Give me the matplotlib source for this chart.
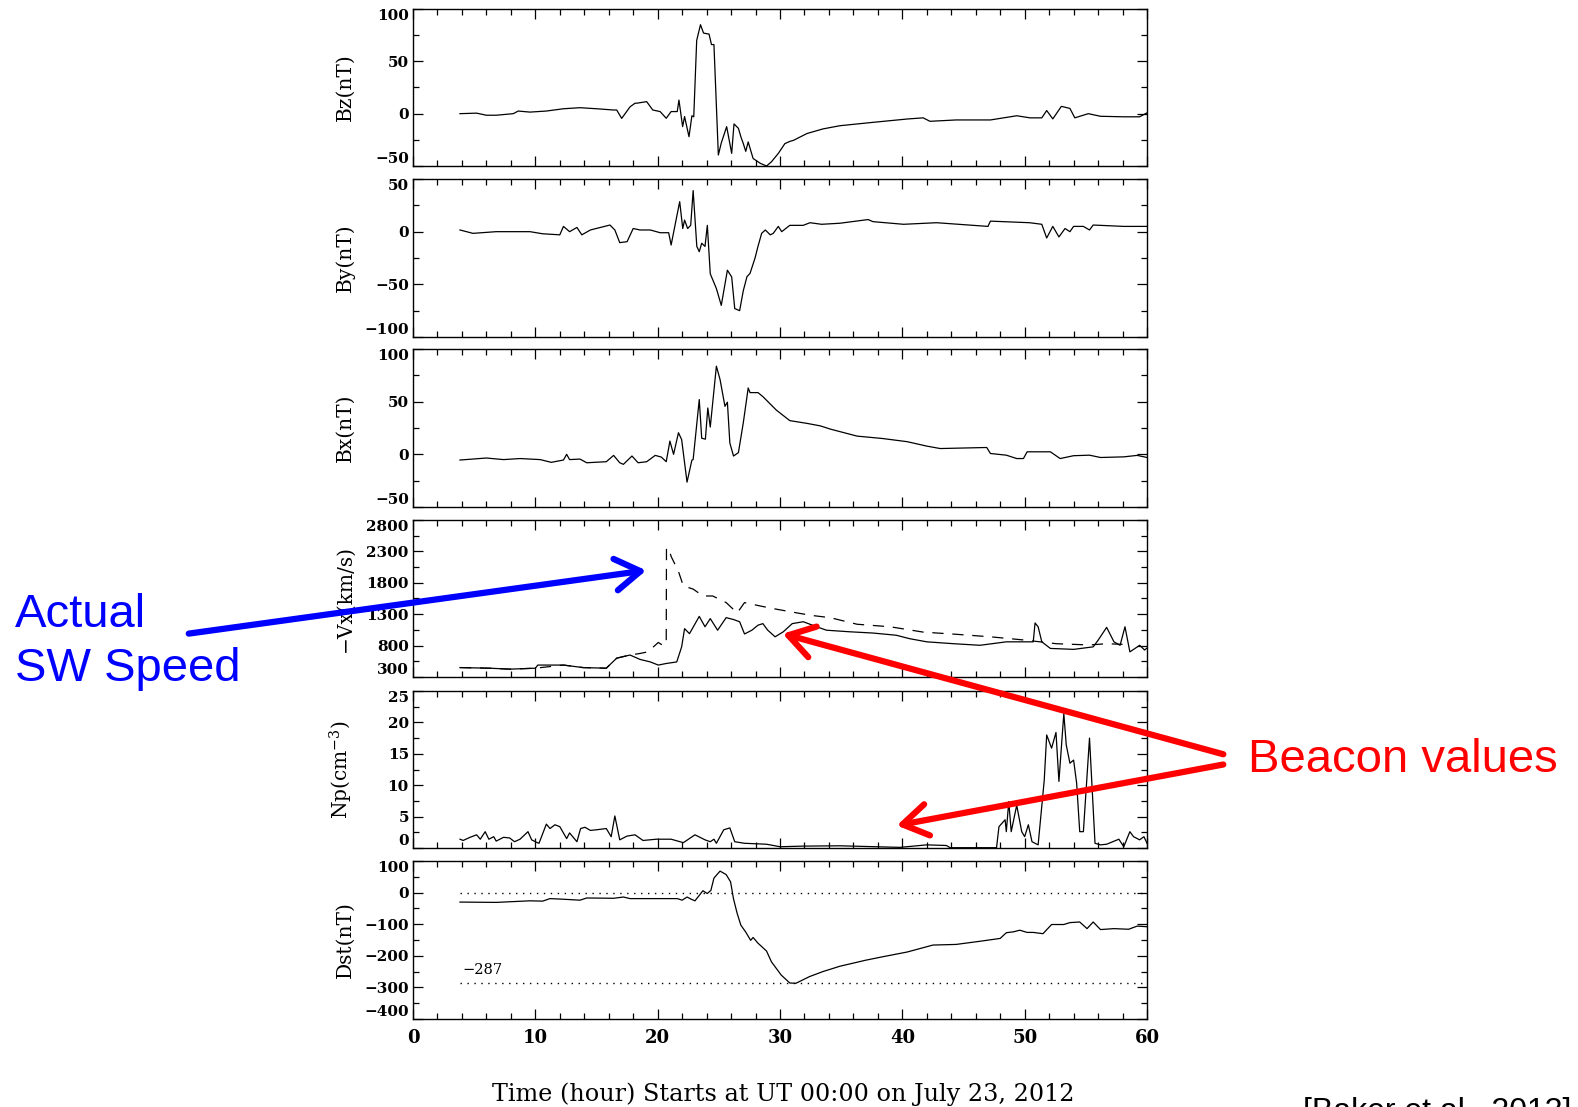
import matplotlib
matplotlib.use("Agg")
import matplotlib.pyplot as plt
from matplotlib.patches import FancyArrowPatch
from matplotlib.ticker import MultipleLocator

# ---------------- data ----------------
bz_t = [3.84, 5.2, 6.0, 6.8, 8.2, 8.6, 9.56, 10.9, 12.3, 13.65, 15.0, 16.4, 16.65, 17.06, 17.4, 17.74,
        18.15, 18.3, 19.1, 19.6, 20.2, 20.7, 21.1, 21.6, 21.74, 22.04, 22.2, 22.56, 22.8, 22.95, 23.19,
        23.5, 23.75, 24.2, 24.4, 24.6, 24.96, 25.2, 25.64, 26.05, 26.24, 26.6, 26.8, 27.0, 27.2, 27.4,
        27.8, 28.4, 28.9, 29.3, 29.86, 30.4, 30.8, 31.1, 32.2, 33.5, 34.9, 37.6, 40.4, 41.7, 42.26, 44.4,
        47.2, 49.35, 50.44, 51.4, 51.8, 52.3, 53.0, 53.7, 54.1, 55.2, 56.2, 58.1, 59.4, 60.0]
bz_v = [0, 0.5, -1.5, -1.5, 0, 2.5, 1.5, 2.5, 4.7, 5.7, 4.7, 3.5, 3.5, -4.5, 1, 6.5,
        10, 10, 11.5, 3.5, 2, -4.4, 2, 2, 13, -12.4, -2.8, -22, -2, -3, 70,
        85, 77, 76, 66, 66, -39.5, -28, -12.4, -37.9, -9.8, -14, -22, -28.6, -36, -27,
        -42.8, -47.5, -50, -46, -38, -28.6, -26.5, -25.5, -19, -14.6, -11.5, -8.3, -5.1, -4, -7.3, -6,
        -6, -2, -4, -4, 3, -5, 7, 5, -4, 0, -2.5, -3, -3, 0.8]

by_t = [3.84, 4.9, 6.8, 9.56, 10.6, 12.0, 12.3, 12.8, 13.4, 13.8, 14.5, 16.1, 16.5, 16.9, 17.5, 18.0,
        18.56, 19.4, 20.2, 20.9, 21.1, 21.4, 21.8, 22.05, 22.2, 22.45, 22.7, 22.9, 23.2, 23.4, 23.6,
        23.87, 24.06, 24.3, 24.8, 25.2, 25.7, 26.05, 26.3, 26.7, 27.0, 27.3, 27.55, 27.96, 28.2, 28.5,
        28.8, 29.2, 29.45, 29.86, 30.14, 30.8, 31.9, 32.45, 33.4, 34.9, 37.2, 37.6, 40.1, 42.8, 47.0,
        47.2, 50.4, 51.4, 51.8, 52.3, 52.8, 53.3, 53.7, 54.0, 54.8, 55.3, 55.6, 58.1, 60.0]
by_v = [1.6, -1.6, 0, 0, -2, -3, 5, 0, 4, -3, 1.6, 6.3, 1.6, -10.4, -9.5, 3,
        1.6, 1.6, -1, -1, -12.7, 5, 28.5, 3, 11, 3, 6, 39, -14, -19, -11,
        -14, 6, -40, -54, -70, -36.6, -43, -73, -75, -56, -42.7, -39.6, -25, -14, -1.6,
        1.6, -3, -1.6, 5, 0, 6, 6, 8.5, 7, 8, 11.5, 9.5, 7, 8.5, 5,
        10, 8.5, 7, -6, 5, -5, 3, 0, 5, 5, 1.6, 6.3, 5, 5]

bx_t = [3.84, 6.0, 7.4, 8.75, 10.4, 11.3, 12.3, 12.56, 12.8, 13.65, 14.2, 15.8, 16.4, 16.9, 17.2, 17.9,
        18.4, 19.1, 19.8, 20.3, 20.7, 21.0, 21.3, 21.7, 21.96, 22.4, 22.8, 22.9, 23.4, 23.6, 23.9, 24.1,
        24.3, 24.8, 25.1, 25.5, 25.7, 25.9, 26.2, 26.6, 27.0, 27.4, 27.55, 28.2, 28.6, 29.7, 30.8, 32.2,
        33.3, 34.1, 36.3, 38.4, 40.4, 42.0, 43.1, 46.9, 47.2, 48.5, 49.35, 49.9, 50.2, 51.3, 52.1, 52.9,
        54.0, 55.3, 56.2, 58.1, 59.2, 60.0]
bx_v = [-5.4, -3.5, -5, -4, -5, -7.6, -5.4, 0, -5, -4.5, -8, -7, -1, -8, -9.5, -1.6,
        -8, -7, -1, -2.6, -7, 12.6, 0, 20.5, 14, -26.4, -5.4, -5, 52, 15.3, 14.4, 44,
        25.9, 83.7, 71, 45.6, 49.5, 10.8, -1.6, 1.6, 30, 63, 58.6, 58.6, 54.8, 42, 32, 29.4,
        27, 24, 17.3, 15, 12, 7.8, 5.5, 6.5, 0.8, -0.8, -4, -4, 2.4, 2.4, 2.4, -4,
        -1.3, -0.8, -3, -2.4, -1, -3]

vx_t = [3.84, 6.3, 7.9, 10.0, 10.2, 12.3, 13.9, 15.8, 16.65, 17.74, 18.56, 19.4, 20.05, 20.7, 21.56,
        21.96, 22.2, 22.6, 23.4, 23.87, 24.3, 24.9, 25.6, 26.2, 26.7, 27.1, 27.7, 28.2, 28.6, 29.0,
        29.6, 30.27, 31.0, 31.9, 33.0, 33.8, 35.7, 37.6, 39.5, 40.6, 42.0, 44.2, 46.35, 48.5, 50.2,
        50.7, 50.85, 51.1, 51.4, 52.1, 54.0, 55.6, 56.0, 56.7, 57.3, 57.8, 58.2, 58.6, 59.4, 59.8, 60.0]
vx_v = [450, 440, 425, 440, 490, 490, 450, 440, 600, 650, 580, 540, 490, 515, 540,
        780, 1070, 990, 1265, 1100, 1230, 1045, 1245, 1215, 1180, 985, 1045, 1125, 1150, 1045,
        940, 1020, 1150, 1180, 1100, 1045, 1020, 1000, 965, 910, 860, 830, 805, 860, 860,
        860, 1160, 1100, 860, 755, 740, 780, 885, 1090, 860, 805, 1100, 700, 805, 730, 760]

vxd_t = [3.84, 6.3, 7.9, 10.0, 12.3, 13.9, 15.8, 16.65, 17.74, 18.56, 19.2, 20.05, 20.45, 20.7, 20.72,
         20.9, 21.1, 21.7, 22.1, 22.9, 23.7, 24.5, 25.6, 26.5, 27.1, 28.4, 29.7, 31.4, 32.6, 34.1,
         36.3, 39.0, 41.7, 44.4, 47.2, 49.9, 52.6, 55.3, 56.7, 58.0]
vxd_v = [450, 440, 425, 440, 490, 450, 440, 600, 650, 675, 700, 850, 800, 830, 2350,
         2350, 2220, 1980, 1750, 1700, 1590, 1590, 1485, 1320, 1485, 1430, 1380, 1320, 1280, 1245,
         1140, 1100, 1015, 980, 940, 890, 830, 810, 830, 820]

np_t = [3.84, 4.1, 4.66, 5.2, 5.5, 5.9, 6.2, 6.6, 6.8, 7.4, 7.9, 8.3, 8.75, 9.4, 9.7, 10.1, 10.3, 10.9,
        11.2, 11.6, 12.0, 12.56, 12.8, 13.4, 13.7, 14.06, 14.5, 15.0, 15.8, 16.2, 16.5, 16.9, 17.5,
        18.15, 18.8, 19.9, 21.1, 22.1, 23.05, 23.87, 24.3, 24.6, 24.8, 25.4, 25.9, 26.3, 27.1, 28.9,
        30.0, 31.9, 34.9, 39.8, 42.0, 43.6, 43.9, 47.7, 47.9, 48.4, 48.5, 48.7, 48.9, 49.35, 49.76,
        50.0, 50.3, 50.6, 51.1, 51.6, 51.8, 52.2, 52.56, 52.8, 53.2, 53.4, 53.7, 54.0, 54.25, 54.5,
        54.8, 55.3, 55.75, 56.2, 56.7, 57.7, 58.1, 58.6, 58.9, 59.4, 59.75, 60.0]
np_v = [1.4, 1.2, 1.7, 2.1, 1.4, 2.6, 1.4, 1.8, 1.1, 1.7, 1.6, 1.0, 1.4, 2.6, 1.3, 0.9, 0.75, 3.8,
        3.1, 3.7, 3.4, 1.5, 2.4, 1.0, 3.1, 3.3, 2.8, 2.9, 3.1, 1.8, 5.1, 1.3, 1.9,
        2.1, 1.2, 1.4, 1.4, 0.85, 2.1, 1.3, 1.0, 1.4, 0.75, 2.9, 3.2, 1.0, 0.75, 0.6,
        0.2, 0.3, 0.35, 0.1, 0.5, 0.4, 0.05, 0.05, 3.4, 4.5, 2.6, 7.4, 2.6, 6.8, 2.6,
        1.8, 3.7, 1.0, 0.5, 10.8, 18, 15.9, 18.4, 10.6, 21.4, 16.4, 13.5, 14.0, 10.3, 2.6,
        2.6, 17.5, 0.75, 0.5, 0.6, 1.4, 0.2, 2.6, 1.8, 1.3, 1.8, 0.75]

dst_t = [3.84, 6.8, 9.56, 10.6, 11.2, 12.3, 13.65, 14.2, 16.4, 17.2, 17.74, 19.1, 20.2, 21.6, 22.0,
         22.4, 22.8, 23.05, 23.7, 24.05, 24.35, 24.6, 25.1, 25.6, 25.96, 26.2, 26.5, 26.8, 27.2, 27.6,
         27.8, 28.2, 28.9, 29.3, 29.7, 30.1, 30.8, 31.3, 32.4, 33.5, 34.9, 37.0, 38.4, 40.4, 42.5,
         44.4, 46.35, 48.0, 48.5, 49.1, 49.6, 50.2, 50.7, 51.5, 52.2, 53.2, 53.7, 54.5, 55.1, 55.6,
         56.2, 57.3, 58.5, 59.2, 60.0]
dst_v = [-30, -31, -26, -27, -19, -21, -24, -17, -18, -14, -19, -19, -19, -19, -24,
         -14, -22, -26, 6, -3, 7, 46, 68, 57, 34, -20, -66, -103, -125, -151,
         -142, -160, -185, -219, -240, -261, -286, -287, -266, -250, -233, -214, -203, -188, -166,
         -164, -154, -145, -127, -124, -119, -126, -126, -130, -101, -101, -95, -93, -114, -93,
         -117, -114, -116, -106, -108]

dst_refs = [0, -287]
dst_ref_label = "\u2212287"

x_ticks = [0, 10, 20, 30, 40, 50, 60]
panel_labels = ["Bz(nT)", "By(nT)", "Bx(nT)", "\u2212Vx(km/s)", "Np(cm$^{-3}$)", "Dst(nT)"]
panel_ylims = [(-50, 100), (-100, 50), (-50, 100), (300, 2800), (0, 25), (-400, 100)]
panel_major = [50, 50, 50, 500, 5, 100]
panel_minor = [25, 25, 25, 250, 2.5, 50]

xlabel_text = "Time (hour) Starts at UT 00:00 on July 23, 2012"
note_actual = "Actual\nSW Speed"
note_beacon = "Beacon values"
citation = "[Baker et al., 2013]"

# ---------------- figure ----------------
W, H = 1578, 1107
plt.rcParams["mathtext.fontset"] = "dejavuserif"
fig = plt.figure(figsize=(W / 100, H / 100), dpi=100)
fig.patch.set_facecolor("white")

left_px, right_px = 413, 1147
panel_px = [(9, 166), (179, 337), (349, 507), (520, 677), (691, 848), (861, 1019)]

series = [
    [(bz_t, bz_v, "-")],
    [(by_t, by_v, "-")],
    [(bx_t, bx_v, "-")],
    [(vx_t, vx_v, "-"), (vxd_t, vxd_v, (0, (9, 7)))],
    [(np_t, np_v, "-")],
    [(dst_t, dst_v, "-")],
]

axes = []
for i, (top, bot) in enumerate(panel_px):
    ax = fig.add_axes([left_px / W, 1 - bot / H, (right_px - left_px) / W, (bot - top) / H])
    for t, v, ls in series[i]:
        ax.plot(t, v, color="black", lw=0.9, linestyle=ls)
    lo, hi = panel_ylims[i]
    ax.set_xlim(0, 60)
    ax.set_ylim(lo, hi)
    ax.xaxis.set_major_locator(MultipleLocator(10))
    ax.xaxis.set_minor_locator(MultipleLocator(2))
    ax.yaxis.set_major_locator(MultipleLocator(panel_major[i], offset=lo % panel_major[i]))
    ax.yaxis.set_minor_locator(MultipleLocator(panel_minor[i], offset=lo % panel_minor[i]))
    ax.tick_params(which="both", direction="in", top=True, right=True, width=0.9, colors="black")
    ax.tick_params(which="major", length=7)
    ax.tick_params(which="minor", length=4)
    ax.tick_params(axis="y", labelsize=11, pad=3)
    for s in ax.spines.values():
        s.set_linewidth(1.0)
    ax.set_ylabel(panel_labels[i], fontsize=14.5, family="DejaVu Serif")
    ax.yaxis.set_label_coords(-0.079, 0.5)
    if i < 5:
        ax.tick_params(axis="x", labelbottom=False)
    else:
        ax.set_xticks(x_ticks)
        ax.set_xticklabels([str(x) for x in x_ticks], fontsize=13, family="DejaVu Serif",
                           fontweight="bold")
        ax.tick_params(axis="x", pad=7)
    axes.append(ax)

# tick label styling (end labels pulled inside the panel, as in the original)
fig.canvas.draw()
for ax in axes:
    lo, hi = ax.get_ylim()
    for tk in ax.yaxis.get_major_ticks():
        lab = tk.label1
        lab.set_fontfamily("DejaVu Serif")
        lab.set_fontweight("bold")
        loc = tk.get_loc()
        if abs(loc - lo) < 1e-6:
            lab.set_verticalalignment("bottom")
        elif abs(loc - hi) < 1e-6:
            lab.set_verticalalignment("top")

# Dst reference lines
ax = axes[5]
ax.hlines(dst_refs, dst_t[0], 60, colors="black", linestyles=(0, (1, 4)), lw=1.0)
ax.text(dst_t[0] + 0.2, -245, dst_ref_label, fontsize=10.5, family="DejaVu Serif",
        ha="left", va="center")

fig.text(783 / W, 1 - 1094 / H, xlabel_text, fontsize=17.2, family="DejaVu Serif",
         ha="center", va="center")


# annotations
def fx(x):
    return x / W


def fy(y):
    return 1 - y / H


fig.text(fx(15), fy(642), note_actual, color="#0000ff", fontsize=34, family="Liberation Sans",
         ha="left", va="center", linespacing=1.3)

style = "->,head_length=0.6,head_width=0.38"
blue = FancyArrowPatch((fx(186), fy(634)), (fx(649), fy(570)), transform=fig.transFigure,
                       arrowstyle=style, mutation_scale=30,
                       color="#0000ff", lw=4.5, zorder=10)
fig.add_artist(blue)

fig.text(fx(1248), fy(760), note_beacon, color="#ff0000", fontsize=34, family="Liberation Sans",
         ha="left", va="center")
for (x0, y0), (x1, y1) in [((1226, 755), (780, 633)), ((1226, 764), (894, 826))]:
    arr = FancyArrowPatch((fx(x0), fy(y0)), (fx(x1), fy(y1)), transform=fig.transFigure,
                          arrowstyle=style, mutation_scale=30,
                          color="#ff0000", lw=4.5, zorder=10)
    fig.add_artist(arr)

fig.text(fx(1303), fy(1120), citation, fontsize=23, family="Liberation Sans",
         ha="left", va="baseline")

fig.savefig("out.png", dpi=100, facecolor="white")
